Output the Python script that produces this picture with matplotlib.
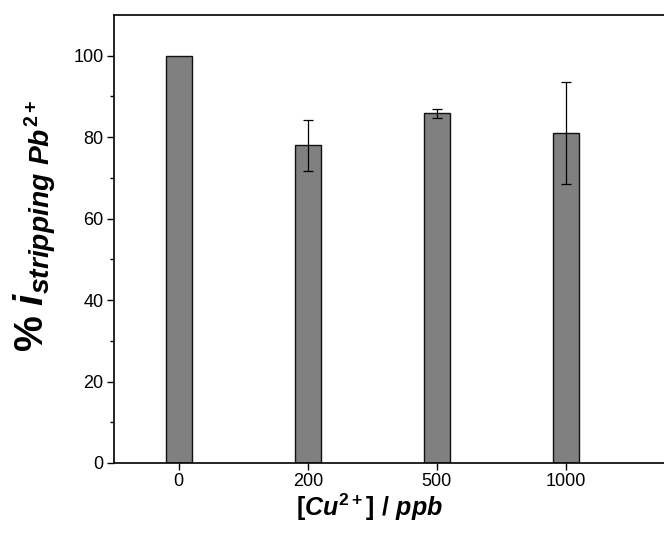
import matplotlib.pyplot as plt

plt.rcParams['font.family'] = ['Liberation Sans', 'DejaVu Sans']
plt.rcParams['mathtext.fontset'] = 'custom'
plt.rcParams['mathtext.rm'] = 'Liberation Sans:bold'
plt.rcParams['mathtext.it'] = 'Liberation Sans:bold:italic'
plt.rcParams['mathtext.bf'] = 'Liberation Sans:bold'

# Cu2+ Konzentrationen und Signal
kategorien = ["0", "200", "500", "1000"]
werte = [100, 78, 85.8, 81]
fehler = [0, 6.3, 1.0, 12.5]

fig = plt.figure(figsize=(6.64, 5.36), dpi=100)
ax = fig.add_axes([0.1717, 0.1362, 0.852, 0.836])

pos = list(range(len(kategorien)))
ax.bar(pos, werte, width=0.2, color="#808080", edgecolor="#111111", linewidth=1.0)
ax.errorbar(pos[1:], werte[1:], yerr=fehler[1:], fmt="none", ecolor="black",
            elinewidth=0.9, capsize=3.6, capthick=0.9)

ax.set_xlim(-0.5, 3.88)
ax.set_ylim(0, 110)
ax.set_xticks(pos)
ax.set_xticklabels(kategorien)
ax.set_yticks([0, 20, 40, 60, 80, 100])
ax.set_yticks([10, 30, 50, 70, 90], minor=True)
ax.tick_params(axis="both", which="major", direction="out", length=5, width=1.0,
               labelsize=13, pad=2.5)
ax.tick_params(axis="y", which="minor", direction="out", length=3, width=1.0)
for s in ax.spines.values():
    s.set_linewidth(1.2)

ax.set_xlabel(r"$\mathit{[Cu^{2+}]\ /\ ppb}$", fontsize=18, labelpad=1)
ax.xaxis.label.set_x(0.452)
ax.set_ylabel(r"% $\mathit{i}_{\mathit{stripping\ Pb}^{\mathbf{2+}}}$", fontsize=29,
              fontweight="bold", labelpad=10)
ax.yaxis.label.set_y(0.53)

fig.savefig("out.png", dpi=100)
